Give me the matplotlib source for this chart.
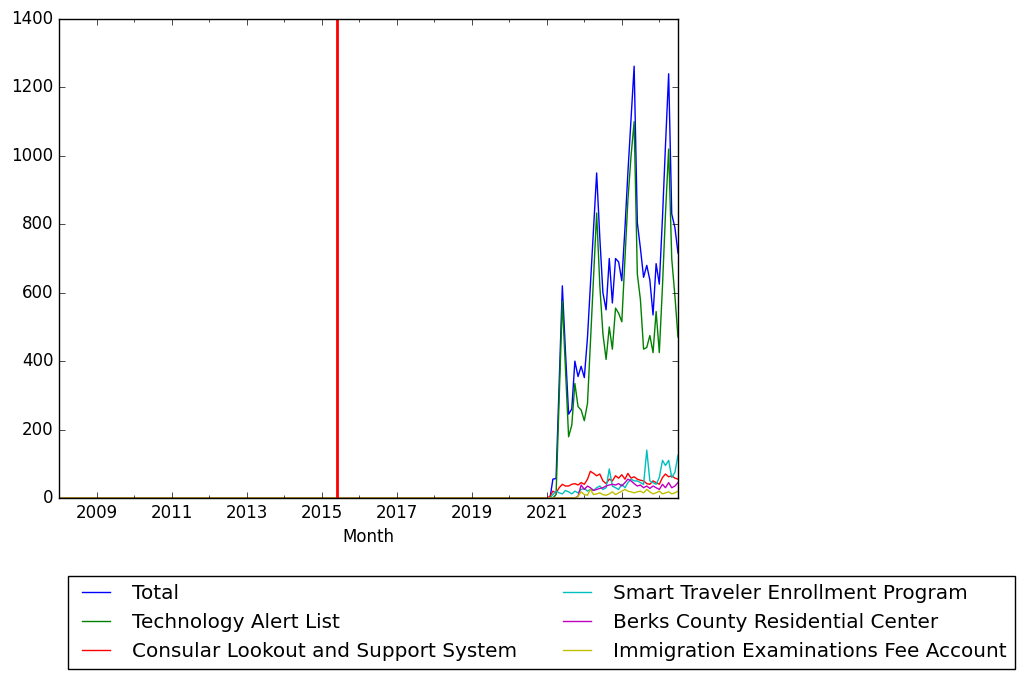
import numpy as np
import matplotlib
matplotlib.use("Agg")
import matplotlib.pyplot as plt
import matplotlib.dates as mdates
import matplotlib.ticker as mticker
import datetime as dt

plt.style.use("classic")
plt.rcParams["font.family"] = ["DejaVu Sans"]

# Monthly series: all zero from 2008-01 to 2020-12, values below from 2021-01 to 2024-07
start_year, start_month = 2008, 1
zero_months = 156

total = [0, 0, 55, 57, 330, 620, 430, 245, 260, 400, 355, 385, 352, 470, 620, 790,
         950, 760, 600, 550, 700, 570, 700, 690, 635, 790, 950, 1110, 1262, 805, 730,
         645, 680, 637, 535, 685, 625, 820, 1030, 1240, 830, 790, 716]
tech_alert = [0, 0, 0, 10, 290, 575, 380, 179, 213, 335, 267, 257, 226, 277, 450, 640,
              833, 620, 480, 405, 500, 435, 555, 540, 515, 700, 870, 1000, 1100, 655, 580,
              435, 440, 475, 425, 545, 425, 620, 830, 1020, 700, 590, 470]
consular = [0, 5, 20, 15, 30, 40, 35, 35, 40, 42, 38, 45, 40, 55, 78, 72,
            65, 70, 50, 42, 55, 50, 65, 58, 68, 55, 72, 58, 62, 55, 52,
            50, 42, 40, 50, 45, 40, 60, 70, 62, 65, 58, 55]
smart_traveler = [0, 0, 10, 20, 15, 12, 22, 18, 12, 20, 15, 25, 28, 20, 25, 22,
                  30, 35, 25, 30, 85, 35, 30, 25, 40, 30, 45, 55, 50, 50, 45,
                  40, 140, 50, 45, 40, 60, 110, 95, 110, 60, 75, 125]
berks = [0, 0, 0, 0, 0, 0, 0, 0, 0, 0, 5, 38, 25, 35, 30, 22,
         25, 28, 30, 35, 38, 40, 38, 42, 35, 45, 55, 50, 42, 35, 38,
         30, 35, 28, 35, 30, 25, 40, 30, 45, 30, 35, 45]
fee_account = [0, 0, 0, 0, 0, 0, 0, 0, 0, 0, 5, 18, 10, 8, 25, 10,
               12, 15, 10, 8, 12, 18, 10, 15, 20, 25, 20, 18, 15, 18, 20,
               15, 25, 18, 12, 15, 20, 12, 15, 18, 12, 15, 20]

labels = ["Total", "Technology Alert List", "Consular Lookout and Support System",
          "Smart Traveler Enrollment Program", "Berks County Residential Center",
          "Immigration Examinations Fee Account"]
colors = ["b", "g", "r", "c", "m", "y"]
event_date = dt.date(2015, 6, 1)

series = [total, tech_alert, consular, smart_traveler, berks, fee_account]
n = zero_months + len(total)
dates = []
for i in range(n):
    m = start_month - 1 + i
    dates.append(dt.date(start_year + m // 12, m % 12 + 1, 1))

fig = plt.figure(figsize=(10.27, 6.79), dpi=100)
ax = fig.add_axes([59 / 1027, 1 - 498 / 679, (678 - 59) / 1027, (498 - 19) / 679])

for vals, lab, col in zip(series, labels, colors):
    y = [0] * zero_months + list(vals)
    ax.plot(dates, y, color=col, lw=1, label=lab)

ax.axvline(event_date, color="r", lw=2)

ax.set_xlim(dates[0], dates[-1])
ax.set_ylim(0, 1400)
ax.yaxis.set_major_locator(mticker.MultipleLocator(200))

major = [mdates.date2num(dt.date(y, 1, 1)) for y in range(2009, 2025, 2)]
minor = [mdates.date2num(dt.date(y, 1, 1)) for y in range(2008, 2025)]
ax.xaxis.set_major_locator(mticker.FixedLocator(major))
ax.xaxis.set_minor_locator(mticker.FixedLocator(minor))
ax.xaxis.set_major_formatter(mdates.DateFormatter("%Y"))
ax.set_xlabel("Month")

handles, labs = ax.get_legend_handles_labels()
fig.legend(handles, labs, loc="upper left", bbox_to_anchor=(68 / 1027, 1 - 576 / 679),
           borderaxespad=0, ncol=2, fontsize=14.4)

fig.savefig("out.png", dpi=100)
